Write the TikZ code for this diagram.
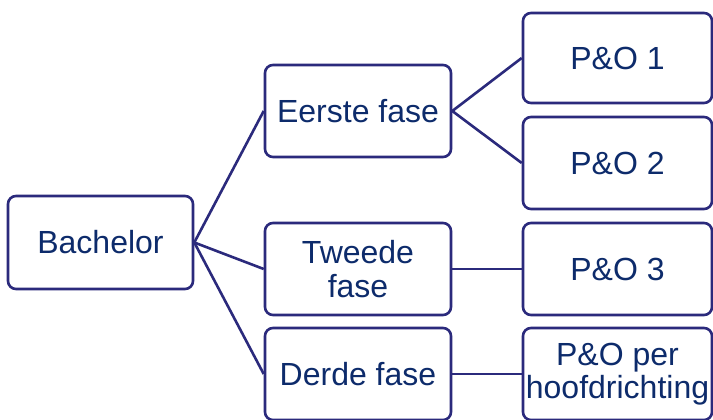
\documentclass[tikz,border=0pt]{standalone}
\usepackage{fontspec}
\setmainfont{Liberation Sans}
\definecolor{boxline}{HTML}{2B2A7C}
\definecolor{boxtext}{HTML}{0D2B6B}
\begin{document}
\begin{tikzpicture}[x=1pt,y=-1pt,
  box/.style={draw=boxline, line width=2.6pt, rounded corners=8pt, fill=white,
    minimum width=186pt, minimum height=92pt, inner sep=0pt, align=center,
    text=boxtext, font=\fontsize{32}{33.5}\selectfont},
  rbox/.style={box, minimum width=189pt},
  link/.style={draw=boxline, line width=2.6pt}]
\useasboundingbox (0,0) rectangle (713,420);
\fill[white] (0,0) rectangle (713,420);
\node[box, minimum width=185pt, minimum height=93pt] (bach) at (100.5,242.5) {Bachelor};
\node[box] (eerste) at (358,111) {Eerste fase};
\node[box] (tweede) at (358,269) {Tweede\\fase};
\node[box] (derde) at (358,374) {Derde fase};
\node[rbox, minimum height=90pt] (po1) at (617.5,58) {P\&O 1};
\node[rbox] (po2) at (617.5,163) {P\&O 2};
\node[rbox] (po3) at (617.5,269) {P\&O 3};
\node[rbox] (poper) at (617.5,374) {P\&O per\\hoofdrichting};
\draw[link] (bach.east) -- (eerste.west);
\draw[link] (bach.east) -- (tweede.west);
\draw[link] (bach.east) -- (derde.west);
\draw[link] (eerste.east) -- (po1.west);
\draw[link] (eerste.east) -- (po2.west);
\draw[link] (tweede.east) -- (po3.west);
\draw[link] (derde.east) -- (poper.west);
\end{tikzpicture}
\end{document}
